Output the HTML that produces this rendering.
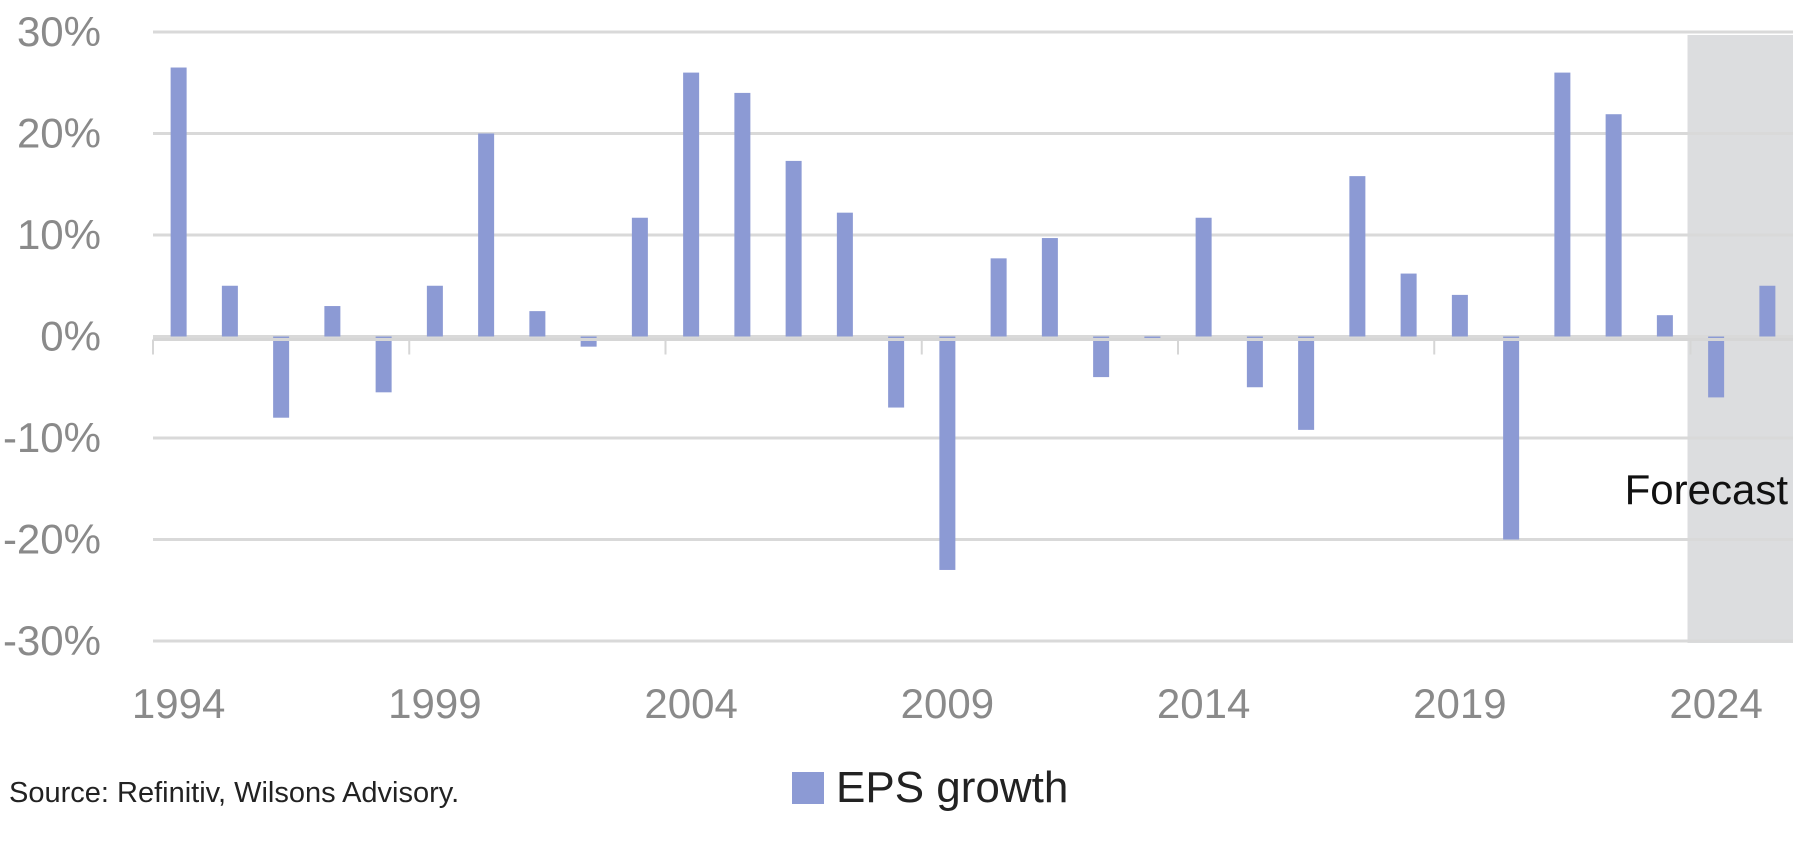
<!DOCTYPE html>
<html><head><meta charset="utf-8"><style>
body{margin:0;background:#fff;}
svg{display:block;font-family:"Liberation Sans",sans-serif;}
</style></head><body>
<svg id="chart" width="1800" height="859" viewBox="0 0 1800 859"></svg>
<script>
const years=[1994,1995,1996,1997,1998,1999,2000,2001,2002,2003,2004,2005,2006,2007,2008,2009,2010,2011,2012,2013,2014,2015,2016,2017,2018,2019,2020,2021,2022,2023,2024,2025];
const epsGrowth=[26.5,5,-8,3,-5.5,5,20,2.5,-1,11.7,26,24,17.3,12.2,-7,-23,7.7,9.7,-4,-0.3,11.7,-5,-9.2,15.8,6.2,4.1,-20,26,21.9,2.1,-6,5];
const yTicks=[30,20,10,0,-10,-20,-30];
const yTickLabels=["30%","20%","10%","0%","-10%","-20%","-30%"];
const xLabelYears=[1994,1999,2004,2009,2014,2019,2024];
const forecastStart=2024;

const NS="http://www.w3.org/2000/svg";
const svg=document.getElementById('chart');
const L=153,R=1793,T=32,B=641;
const n=years.length, band=(R-L)/n;
const y=v=>T+(30-v)/60*(B-T);
const xc=i=>L+band*(i+0.5);
function el(t,a){const e=document.createElementNS(NS,t);for(const k in a)e.setAttribute(k,a[k]);svg.appendChild(e);return e;}

const fi=years.indexOf(forecastStart);
const sh=el('rect',{x:L+band*fi-3,y:T+3,width:R-(L+band*fi-3),height:B-T-1,fill:'#dcdddf'});



yTicks.forEach((v,k)=>{
  const g=el('line',{x1:L,x2:R,y1:y(v),y2:y(v),stroke:'#d9d9d9','stroke-width':3});
  
  
  const t=el('text',{x:101,y:y(v)+14,'text-anchor':'end','font-size':42,fill:'#8a8a8a'});
  t.textContent=yTickLabels[k];
  
  
});

epsGrowth.forEach((v,i)=>{
  const top=Math.min(y(v),y(0)), h=Math.abs(y(v)-y(0));
  const b=el('rect',{x:xc(i)-8,y:top,width:16,height:Math.max(h,1.5),fill:'#8c9ad4'});
  
  
});

const ax=el('line',{x1:L,x2:R,y1:y(0)+3,y2:y(0)+3,stroke:'#d6d6d6','stroke-width':3});


for(let i=0;i<n;i+=5){
  const tk=el('line',{x1:L+band*i,x2:L+band*i,y1:y(0)+3,y2:y(0)+18,stroke:'#d6d6d6','stroke-width':2});
  
  
}
xLabelYears.forEach(yr=>{
  const i=years.indexOf(yr);
  const t=el('text',{x:xc(i),y:718,'text-anchor':'middle','font-size':42,fill:'#8a8a8a'});
  t.textContent=yr;
  
  
});

const fc=el('text',{x:1788,y:504,'text-anchor':'end','font-size':42,fill:'#111'});
fc.textContent='Forecast';



const lg=el('rect',{x:792,y:772,width:32,height:32,fill:'#8c9ad4'});


const lt=el('text',{x:836,y:802,'font-size':44,fill:'#222'});
lt.textContent='EPS growth';



const src=el('text',{x:9,y:802,'font-size':29,fill:'#222'});
src.textContent='Source: Refinitiv, Wilsons Advisory.';


</script>
</body></html>
